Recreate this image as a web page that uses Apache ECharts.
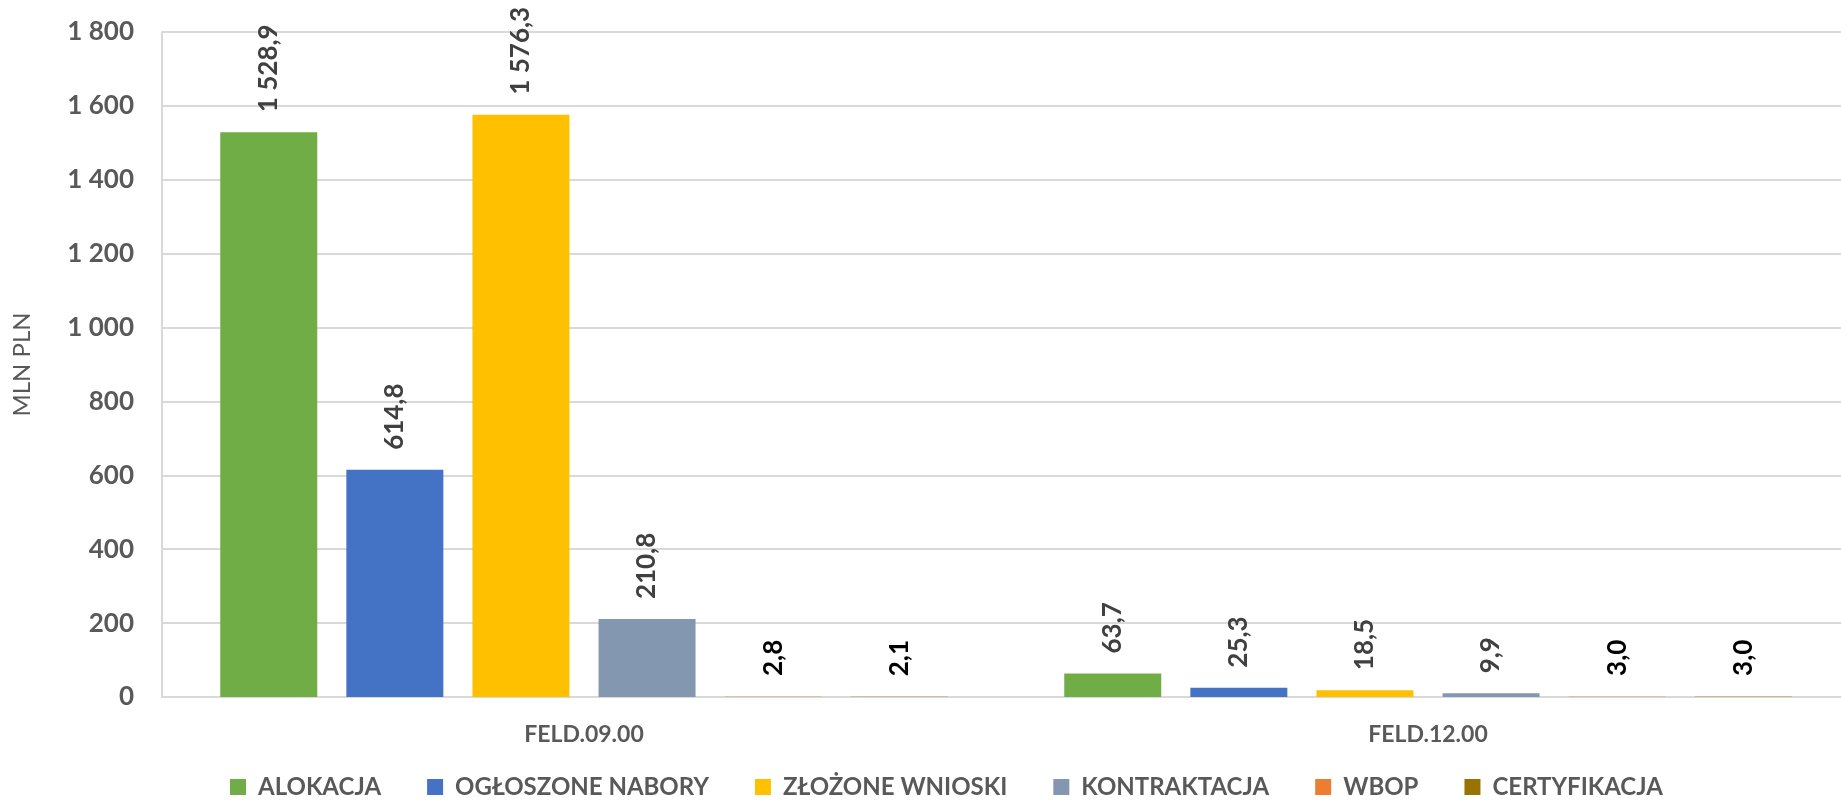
<!DOCTYPE html>
<html>
<head>
<meta charset="utf-8">
<script src="https://cdn.jsdelivr.net/npm/echarts@6/dist/echarts.min.js"></script>
<style>
  html, body { margin: 0; padding: 0; background: #fff; overflow: hidden; }
  /* wykres szerszy niż okno - linie siatki w oryginale dochodzą do prawej krawędzi */
  #chart { width: 1860px; height: 800px; }
</style>
</head>
<body>
<div id="chart"></div>
<script>
// kategorie (działania)
const categories = ['FELD.09.00', 'FELD.12.00']

// serie - wartości w mln PLN
const seriesNames = ['ALOKACJA', 'OGŁOSZONE NABORY', 'ZŁOŻONE WNIOSKI', 'KONTRAKTACJA', 'WBOP', 'CERTYFIKACJA']
const alokacja = [1528.9, 63.7]
const naboryOgloszone = [614.8, 25.3]
const wnioskiZlozone = [1576.3, 18.5]
const kontraktacja = [210.8, 9.9]
const wbop = [2.8, 3.0]
const certyfikacja = [2.1, 3.0]

// oś Y
const yTicks = [0, 200, 400, 600, 800, 1000, 1200, 1400, 1600, 1800]

const colors = ['#70ad47', '#4472c4', '#ffc000', '#8497b0', '#ed7d31', '#997300']
// WBOP i certyfikacja są w oryginale prawie przezroczyste
const barColors = ['#70ad47', '#4472c4', '#ffc000', '#8497b0', 'rgba(237,125,49,0.3)', 'rgba(153,115,0,0.3)']
const font = 'Lato, "Open Sans", sans-serif'

// format liczby po polsku: 1 528,9
function plNum(v, dec) {
    const parts = v.toFixed(dec).split('.')
    parts[0] = parts[0].replace(/\B(?=(\d{3})+(?!\d))/g, ' ')
    return parts.join(',')
}

const allData = [alokacja, naboryOgloszone, wnioskiZlozone, kontraktacja, wbop, certyfikacja]

const myChart = echarts.init(document.querySelector('#chart'))

const option = {
    animation: false,
    grid: {
        left: 162,
        right: 10,
        top: 32,
        bottom: 103
    },
    legend: {
        top: 770,
        left: 225,
        itemWidth: 16,
        itemHeight: 16,
        itemGap: 46,
        icon: 'rect',
        textStyle: {
            fontFamily: font,
            fontWeight: 'bold',
            fontSize: 24,
            color: '#595959',
            padding: [0, 0, 0, 7]
        },
        data: seriesNames.map((n, i) => ({ name: n, itemStyle: { color: colors[i], opacity: 1 } }))
    },
    xAxis: {
        type: 'category',
        data: categories,
        axisLine: { lineStyle: { color: '#d9d9d9', width: 2 } },
        axisTick: { show: false },
        axisLabel: {
            margin: 26,
            fontFamily: font,
            fontWeight: 'bold',
            fontSize: 23,
            color: '#595959'
        }
    },
    yAxis: {
        type: 'value',
        min: 0,
        max: yTicks[yTicks.length - 1],
        interval: 200,
        name: 'MLN PLN',
        nameLocation: 'middle',
        nameGap: 128,
        nameTextStyle: {
            fontFamily: font,
            fontSize: 24,
            color: '#595959'
        },
        axisLine: { show: true, lineStyle: { color: '#d9d9d9', width: 2 } },
        axisTick: { show: false },
        splitLine: { lineStyle: { color: '#d9d9d9', width: 2 } },
        axisLabel: {
            margin: 28,
            fontFamily: font,
            fontWeight: 'bold',
            fontSize: 26,
            color: '#595959',
            formatter: v => plNum(v, 0)
        }
    },
    series: seriesNames.map((name, i) => ({
        name: name,
        type: 'bar',
        data: allData[i],
        barWidth: 97,
        barGap: '30%',
        itemStyle: {
            color: barColors[i]
        },
        label: {
            show: true,
            position: 'top',
            rotate: 90,
            align: 'left',
            verticalAlign: 'middle',
            distance: 20,
            fontFamily: font,
            fontWeight: 'bold',
            fontSize: 26,
            color: i >= 4 ? '#000000' : '#404040',
            formatter: p => plNum(p.value, 1)
        }
    }))
}
myChart.setOption(option)
</script>
</body>
</html>
